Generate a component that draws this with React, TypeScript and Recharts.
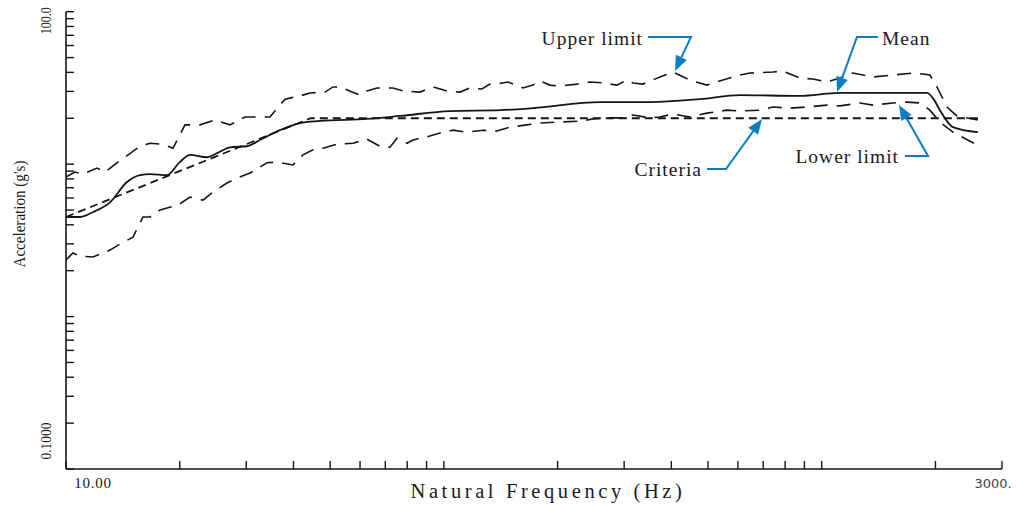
import React from 'react';
import { LineChart, Line, XAxis, YAxis } from 'recharts';

// ---- Data (frequency in Hz, acceleration in g's) ----
const meanFreq = [10, 10.9, 11.8, 13.1, 14.5, 15.7, 16.7, 18.5, 20.0, 21.3, 23.6, 25.1, 27.2, 30.1, 32.6, 36.8, 41.6, 47.0, 62.6, 76.5, 104, 141, 172, 259, 351, 476, 608, 876, 1117, 1898, 1969, 2055, 2224, 2590];
const meanG = [4.5, 4.5, 4.85, 5.64, 7.63, 8.48, 8.61, 8.48, 10.3, 11.5, 11.1, 11.8, 12.9, 13.1, 14.4, 16.7, 18.6, 19.2, 19.8, 20.7, 22.3, 22.6, 23.3, 25.5, 25.5, 26.7, 28.4, 28.0, 29.3, 29.3, 27.1, 22.6, 17.5, 16.2];

const upperFreq = [10, 10.56, 11.09, 12.08, 12.68, 13.64, 15.7, 16.68, 18.06, 19.19, 20.65, 22.62, 24.8, 27.16, 29.77, 34.66, 37.98, 41.62, 44.23, 48.46, 50.88, 53.1, 57.13, 59.98, 62.59, 66.53, 73.34, 77.95, 86.45, 93.58, 101.9, 110.3, 117.3, 126.1, 132.4, 138.2, 147.8, 161.9, 172.1, 179.6, 190.9, 202.9, 225, 243.6, 263.6, 287.1, 305.2, 316.5, 336.4, 373.1, 403.9, 448, 496.8, 547.6, 607.5, 645.7, 742.9, 789.6, 875.6, 947.8, 1032, 1117, 1209, 1366, 1543, 1743, 1853, 1933, 2018, 2145, 2279, 2590];
const upperG = [8.23, 8.87, 8.61, 9.43, 8.87, 10.2, 13.1, 13.7, 13.5, 12.7, 18.1, 18.1, 19.5, 18.1, 20.4, 20.4, 26.7, 28.0, 29.3, 29.7, 32.1, 32.1, 29.7, 28.4, 30.2, 31.6, 31.6, 30.2, 29.7, 32.1, 30.2, 29.7, 31.6, 31.1, 33.5, 33.5, 34.6, 31.6, 33.0, 35.1, 33.0, 32.5, 33.5, 34.6, 34.1, 33.0, 35.6, 34.1, 33.5, 37.3, 40.2, 35.6, 33.0, 35.6, 38.4, 39.6, 40.2, 40.8, 36.7, 36.2, 34.6, 36.7, 39.6, 37.3, 38.4, 39.6, 39.0, 38.4, 32.1, 23.7, 20.7, 19.5];

const lowerFreq = [10, 10.43, 10.89, 11.79, 13.07, 13.9, 15.04, 15.99, 16.68, 17.73, 19.79, 21.29, 22.22, 23.04, 24.49, 26.67, 28.35, 30.69, 34.03, 36.17, 39.87, 42.39, 45.04, 47.87, 52.13, 57.48, 62.59, 67.75, 72.02, 75.15, 79.88, 82.85, 90.22, 97.65, 105.7, 115.1, 126.9, 138.2, 149.6, 165.9, 179.6, 202.9, 233.4, 248.1, 275.1, 297.8, 316.5, 351.1, 373.1, 403.9, 448, 496.8, 561.2, 607.5, 686.2, 742.9, 823.9, 913.7, 1032, 1117, 1262, 1366, 1543, 1681, 1819, 1933, 2055, 2224, 2590];
const lowerG = [2.35, 2.61, 2.49, 2.46, 2.73, 2.99, 3.32, 4.5, 4.5, 5.0, 5.39, 6.08, 5.9, 5.81, 6.56, 7.52, 8.11, 8.74, 10.2, 10.3, 9.87, 11.5, 12.4, 12.7, 13.5, 13.7, 14.6, 13.1, 12.9, 14.8, 13.7, 14.4, 15.1, 16.0, 16.7, 16.2, 16.7, 16.5, 17.5, 18.1, 18.6, 18.9, 19.2, 19.8, 20.1, 20.1, 21.0, 20.1, 20.4, 21.3, 20.4, 21.6, 22.6, 22.3, 22.6, 23.7, 23.3, 23.7, 24.4, 24.1, 25.2, 24.4, 25.2, 25.5, 25.2, 22.6, 18.9, 16.2, 13.3];

const criteriaFreq = [10, 44.4, 2600];
const criteriaG = [4.5, 20, 20];

const xTicks = [10, 20, 30, 40, 50, 60, 70, 80, 90, 100, 200, 300, 400, 500, 600, 700, 800, 900, 1000, 2000, 3000];
const yTicks = [0.1, 0.2, 0.3, 0.4, 0.5, 0.6, 0.7, 0.8, 0.9, 1, 2, 3, 4, 5, 6, 7, 8, 9, 10, 20, 30, 40, 50, 60, 70, 80, 90, 100];
const xTickLabels: Record<number, string> = { 10: '10.00', 3000: '3000.' };
const yTickLabels: Record<number, string> = { 100: '100.0', 0.1: '0.1000' };

const xTitle = 'Natural Frequency (Hz)';
const yTitle = "Acceleration (g's)";

const toPoints = (fs: number[], gs: number[]) => fs.map((f, i) => ({ f, g: gs[i] }));
const meanData = toPoints(meanFreq, meanG);
const upperData = toPoints(upperFreq, upperG);
const lowerData = toPoints(lowerFreq, lowerG);
const criteriaData = toPoints(criteriaFreq, criteriaG);

const INK = '#151515';
const BLUE = '#0b7cc6';
const SERIF = 'Liberation Serif, Times New Roman, serif';

const YTick = (props: any) => {
  const { x, y, payload } = props;
  const label = yTickLabels[payload.value];
  if (!label) return <g />;
  const isTop = payload.value === 100;
  const cy = isTop ? y + 9 : y - 28;
  return (
    <text
      x={x}
      y={cy}
      transform={`rotate(-90 ${x} ${cy})`}
      textAnchor="middle"
      dominantBaseline="central"
      fontFamily={SERIF}
      fontSize={15}
      textLength={isTop ? 27 : 37}
      lengthAdjust="spacingAndGlyphs"
      fill="#1a1a1a"
    >
      {label}
    </text>
  );
};

const XTick = (props: any) => {
  const { x, y, payload } = props;
  const label = xTickLabels[payload.value];
  if (!label) return <g />;
  const isFirst = payload.value === 10;
  return (
    <text
      x={isFirst ? x + 27 : x - 9}
      y={y}
      textAnchor="middle"
      dominantBaseline="central"
      fontFamily={isFirst ? SERIF : 'DejaVu Sans, sans-serif'}
      fontSize={isFirst ? 15 : 13}
      letterSpacing={isFirst ? 0.8 : 0}
      fill={isFirst ? '#1a1a1a' : '#444'}
    >
      {label}
    </text>
  );
};

type Pt = [number, number];
const Callout = ({ pts }: { pts: Pt[] }) => {
  const [tx, ty] = pts[pts.length - 1];
  const [px, py] = pts[pts.length - 2];
  const ang = Math.atan2(ty - py, tx - px);
  const L = 15;
  const W = 6;
  const bx = tx - L * Math.cos(ang);
  const by = ty - L * Math.sin(ang);
  const lx = bx + W * Math.sin(ang);
  const ly = by - W * Math.cos(ang);
  const rx = bx - W * Math.sin(ang);
  const ry = by + W * Math.cos(ang);
  const linePts = [...pts.slice(0, -1), [bx, by] as Pt].map((p) => p.join(',')).join(' ');
  return (
    <g>
      <polyline points={linePts} fill="none" stroke={BLUE} strokeWidth={2} />
      <polygon points={`${tx},${ty} ${lx},${ly} ${rx},${ry}`} fill={BLUE} />
    </g>
  );
};

const annFont = { fontFamily: SERIF, fontSize: 19.5, letterSpacing: 1.0, fill: '#1a1a1a' } as const;

export default function App() {
  return (
    <div style={{ position: 'absolute', left: 0, top: 0, width: 1020, height: 507, background: '#fff' }}>
      <LineChart width={1020} height={507} margin={{ top: 11.7, right: 18, bottom: 0, left: 0 }}>
        <XAxis
          dataKey="f"
          type="number"
          scale="log"
          domain={[10, 3000]}
          allowDataOverflow
          ticks={xTicks}
          interval={0}
          height={38}
          tickSize={-8}
          tickMargin={22}
          tick={<XTick />}
          axisLine={{ stroke: INK, strokeWidth: 1.6 }}
          tickLine={{ stroke: INK, strokeWidth: 1.4 }}
        />
        <YAxis
          dataKey="g"
          type="number"
          scale="log"
          domain={[0.1, 100]}
          allowDataOverflow
          ticks={yTicks}
          interval={0}
          width={66}
          tickSize={-8}
          tickMargin={28}
          tick={<YTick />}
          axisLine={{ stroke: INK, strokeWidth: 1.6 }}
          tickLine={{ stroke: INK, strokeWidth: 1.4 }}
        />
        <Line data={criteriaData} dataKey="g" type="linear" stroke={INK} strokeWidth={1.8} strokeDasharray="8 5" dot={false} isAnimationActive={false} />
        <Line data={upperData} dataKey="g" type="linear" stroke={INK} strokeWidth={1.6} strokeDasharray="14 9" dot={false} isAnimationActive={false} />
        <Line data={lowerData} dataKey="g" type="linear" stroke={INK} strokeWidth={1.6} strokeDasharray="14 9" dot={false} isAnimationActive={false} />
        <Line data={meanData} dataKey="g" type="monotoneX" stroke={INK} strokeWidth={1.8} dot={false} isAnimationActive={false} />
      </LineChart>
      <svg width={1020} height={507} style={{ position: 'absolute', left: 0, top: 0, pointerEvents: 'none' }}>
        <text x={548} y={491} textAnchor="middle" dominantBaseline="central" fontFamily={SERIF} fontSize={20.5} letterSpacing={3.6} fill="#1a1a1a">
          {xTitle}
        </text>
        <text x={19} y={214} transform="rotate(-90 19 214)" textAnchor="middle" dominantBaseline="central" fontFamily={SERIF} fontSize={17} textLength={107} lengthAdjust="spacingAndGlyphs" fill="#1a1a1a">
          {yTitle}
        </text>

        <text x={643} y={38} textAnchor="end" dominantBaseline="central" {...annFont}>Upper limit</text>
        <Callout pts={[[648, 37], [691, 37], [675, 71]]} />

        <text x={882} y={38} textAnchor="start" dominantBaseline="central" {...annFont}>Mean</text>
        <Callout pts={[[878, 37], [857, 37], [837, 92]]} />

        <text x={702} y={169} textAnchor="end" dominantBaseline="central" {...annFont}>Criteria</text>
        <Callout pts={[[707, 169], [726, 169], [762, 119]]} />

        <text x={899} y={156} textAnchor="end" dominantBaseline="central" {...annFont}>Lower limit</text>
        <Callout pts={[[905, 156], [928, 156], [899, 105]]} />
      </svg>
    </div>
  );
}
